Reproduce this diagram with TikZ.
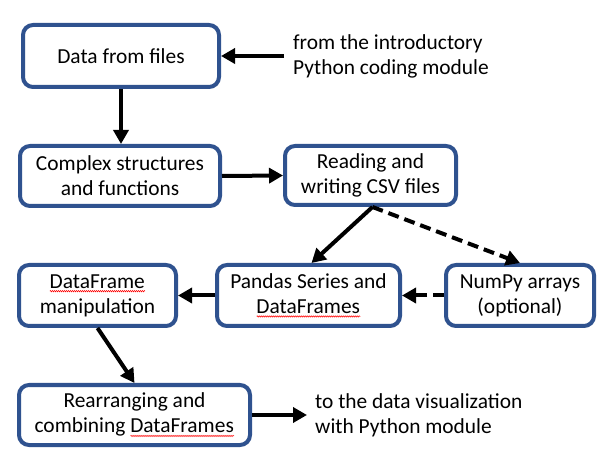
\documentclass[tikz,border=0pt]{standalone}
\usepackage{fontspec}
\setmainfont{Carlito}
\usetikzlibrary{arrows.meta,decorations.pathmorphing}
\definecolor{boxblue}{RGB}{47,82,143}
\newlength\sqgw
\newcommand\sqg[1]{\settowidth\sqgw{#1}\rlap{#1}\raisebox{-3pt}{\tikz[x=1pt,y=1pt,baseline=0pt]{\draw[red,line width=0.5pt,sharp corners,solid,-] decorate[decoration={zigzag,amplitude=0.7pt,segment length=2pt}]{(0,0)--(\the\sqgw,0)};}}}
\tikzset{
  box/.style={draw=boxblue, line width=4pt, rounded corners=10pt, fill=white,
    inner sep=0pt, align=center, font=\fontsize{21.4}{25}\selectfont},
  lbl/.style={inner sep=0pt, anchor=west, align=left, font=\fontsize{21.4}{25}\selectfont},
  arr/.style={line width=4pt, -{Triangle[length=14pt,width=15pt]}},
  darr/.style={arr, dash pattern=on 11pt off 6pt},
}
\begin{document}
\begin{tikzpicture}[x=1pt,y=-1pt]
\useasboundingbox (0,0) rectangle (608,462);
\node[box, minimum width=196pt, minimum height=62pt] (b1) at (121,56) {Data from files};
\node[box, minimum width=200pt, minimum height=60pt] (b2) at (120,176) {Complex structures\\and functions};
\node[box, minimum width=171pt, minimum height=59pt] (b3) at (370.5,175.5) {Reading and\\writing CSV files};
\node[box, minimum width=157pt, minimum height=61pt] (b4) at (97.5,295.5) {\sqg{DataFrame}\\manipulation};
\node[box, minimum width=183pt, minimum height=61pt] (b5) at (308.5,295.5) {Pandas Series and\\\sqg{DataFrames}};
\node[box, minimum width=148pt, minimum height=61pt] (b6) at (520,295.5) {NumPy arrays\\(optional)};
\node[box, minimum width=231pt, minimum height=60pt] (b7) at (134.5,415) {Rearranging and\\combining \sqg{DataFrames}};
\node[lbl] (t1) at (293,56) {from the introductory\\Python coding module};
\node[lbl] (t2) at (315,415) {to the data visualization\\with Python module};
\draw[arr] ([xshift=-9pt]t1.west |- b1.east) -- (b1.east);
\draw[arr] (b1.south) -- (b1.south |- b2.north);
\draw[arr] (b2.east) -- (b3.west);
\draw[arr] ([xshift=2pt]b3.south) -- ([xshift=3pt]b5.north);
\draw[darr] ([xshift=2pt]b3.south) -- (b6.north);
\draw[darr] (b6.west) -- (b5.east);
\draw[arr] (b5.west) -- (b4.east);
\draw[arr] (b4.south) -- (b7.north);
\draw[arr] (b7.east) -- ([xshift=-8pt]t2.west |- b7.east);
\end{tikzpicture}
\end{document}
